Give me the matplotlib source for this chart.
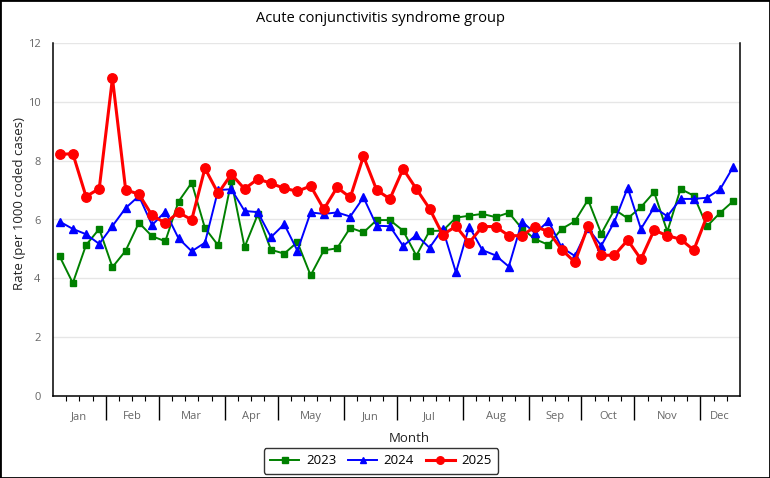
import numpy as np
import matplotlib.pyplot as plt
from matplotlib.patches import Rectangle

plt.rcParams['font.family'] = ['Open Sans', 'DejaVu Sans']

# weekly rates (per 1000 coded cases)
rate_2023 = [4.75, 3.84, 5.13, 5.68, 4.38, 4.94, 5.89, 5.43, 5.26, 6.61, 7.25, 5.71, 5.12,
             7.30, 5.06, 6.17, 4.97, 4.84, 5.23, 4.10, 4.95, 5.02, 5.72, 5.56, 5.98, 5.98,
             5.62, 4.77, 5.61, 5.62, 6.06, 6.13, 6.19, 6.08, 6.23, 5.69, 5.33, 5.14, 5.68,
             5.94, 6.67, 5.52, 6.34, 6.04, 6.42, 6.93, 5.59, 7.04, 6.81, 5.77, 6.23, 6.63]
rate_2024 = [5.93, 5.68, 5.50, 5.17, 5.78, 6.39, 6.80, 5.81, 6.27, 5.36, 4.92, 5.21, 7.00,
             7.03, 6.29, 6.25, 5.40, 5.84, 4.94, 6.24, 6.19, 6.24, 6.10, 6.75, 5.79, 5.77,
             5.10, 5.47, 5.04, 5.68, 4.20, 5.76, 4.96, 4.78, 4.40, 5.93, 5.53, 5.95, 5.05,
             4.76, 5.70, 5.11, 5.93, 7.08, 5.68, 6.41, 6.11, 6.70, 6.70, 6.74, 7.03, 7.80]
rate_2025 = [8.21, 8.24, 6.78, 7.05, 10.80, 7.01, 6.86, 6.14, 5.88, 6.24, 5.99, 7.74, 6.89,
             7.54, 7.04, 7.38, 7.23, 7.06, 6.96, 7.14, 6.35, 7.09, 6.75, 8.15, 7.00, 6.70,
             7.72, 7.04, 6.37, 5.48, 5.77, 5.21, 5.76, 5.76, 5.45, 5.45, 5.76, 5.59, 4.98,
             4.55, 5.78, 4.78, 4.79, 5.30, 4.65, 5.64, 5.45, 5.33, 4.96, 6.11]

months = ['Jan', 'Feb', 'Mar', 'Apr', 'May', 'Jun', 'Jul', 'Aug', 'Sep', 'Oct', 'Nov', 'Dec']
weeks_per_month = [4, 4, 5, 4, 5, 4, 5, 5, 4, 4, 5, 3]

fig = plt.figure(figsize=(7.7, 4.78), dpi=100)
ax = fig.add_axes([53/770, 82/478, 687/770, 353/478])

ax.plot(np.arange(len(rate_2023)), rate_2023, color='#008000', lw=1.4, marker='s', ms=4.8,
        label='2023', zorder=3)
ax.plot(np.arange(len(rate_2024)), rate_2024, color='#0000ff', lw=1.4, marker='^', ms=5.5,
        label='2024', zorder=4)
ax.plot(np.arange(len(rate_2025)), rate_2025, color='#ff0000', lw=2.2, marker='o', ms=6.8,
        label='2025', zorder=5)

nweeks = len(rate_2023)
ax.set_xlim(-0.5, nweeks - 0.5)
ax.set_ylim(0, 12)
ax.set_yticks(np.arange(0, 13, 2))
ax.grid(axis='y', color='#e6e6e6', lw=1)
ax.set_axisbelow(True)
ax.tick_params(axis='y', length=0, labelsize=8, labelcolor='#666666', pad=9)

# week ticks and month group ticks
bounds = np.cumsum([0] + weeks_per_month) - 0.5
ax.set_xticks(bounds[1:-1])
ax.set_xticklabels([])
ax.tick_params(axis='x', which='major', length=17, width=1, color='black')
ax.set_xticks(np.arange(0.5, nweeks - 0.5, 1), minor=True)
ax.tick_params(axis='x', which='minor', length=3.6, width=0.8, color='black')
for m, a, b in zip(months, bounds[:-1], bounds[1:]):
    ax.text((a + b) / 2, -0.058, m, transform=ax.get_xaxis_transform(), ha='center',
            va='center', fontsize=8, color='#666666')

for s in ['left', 'bottom', 'right']:
    ax.spines[s].set_color('black')
    ax.spines[s].set_linewidth(1.1)
ax.spines['top'].set_visible(False)

fig.text(409/770, 1 - 438/478, 'Month', ha='center', va='center', fontsize=9.5,
         color='#222222')
fig.text(20/770, 1 - 203/478, 'Rate (per 1000 coded cases)', ha='center', va='center',
         rotation=90, fontsize=9.5, color='#222222')
fig.text(381/770, 1 - 18/478, 'Acute conjunctivitis syndrome group', ha='center', va='center',
         fontsize=10.5, color='black')

leg = fig.legend(loc='center', bbox_to_anchor=(381/770, 1 - 461/478), ncol=3, fontsize=9.5,
                 frameon=True, fancybox=True, edgecolor='black', handlelength=2.2,
                 handletextpad=0.5, columnspacing=0.9, borderpad=0.5, markerscale=0.8)
leg.get_frame().set_linewidth(1)

fig.patches.append(Rectangle((0, 0), 1, 1, transform=fig.transFigure, fill=False,
                             edgecolor='black', lw=2))

plt.savefig('out.png', dpi=100)
